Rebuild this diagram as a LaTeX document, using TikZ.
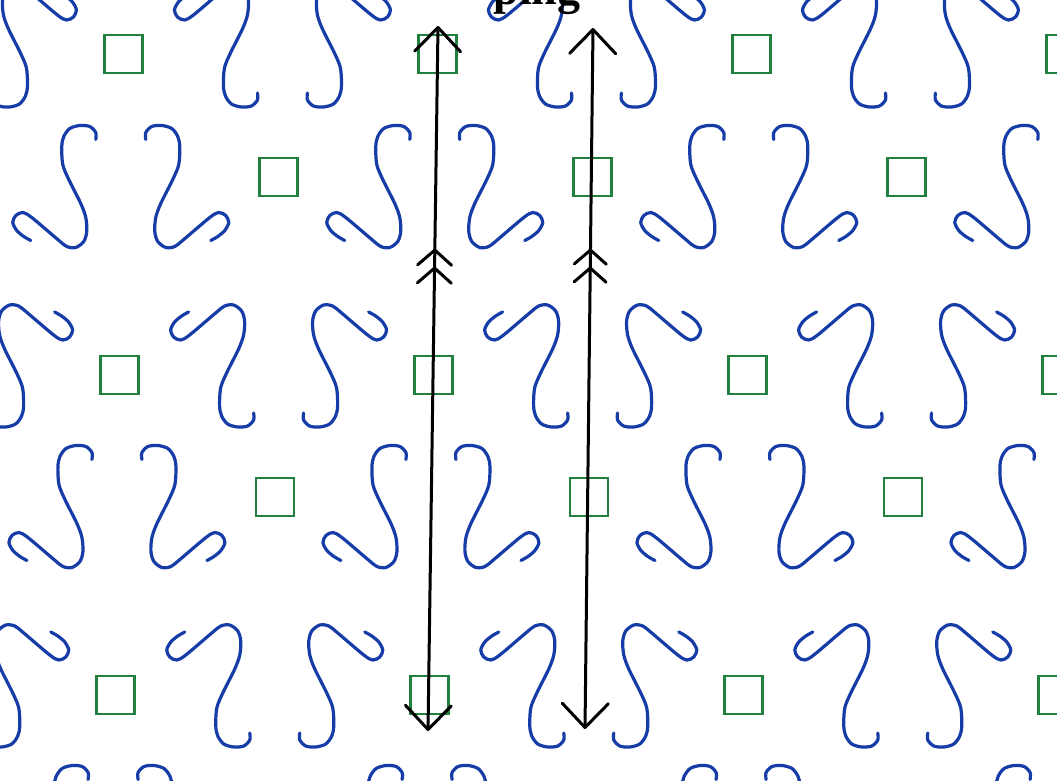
\documentclass[tikz,border=0pt]{standalone}
\usepackage{fontspec}
\setmainfont{Liberation Serif}
\usetikzlibrary{arrows.meta,decorations.markings}
\definecolor{motifblue}{RGB}{22,60,168}
\definecolor{sqgreen}{RGB}{34,128,62}
\tikzset{
  motif/.style={draw=motifblue, line width=3.2pt, line cap=round, line join=round},
  sq/.style={draw=sqgreen, line width=2.8pt, minimum size=38pt, inner sep=0pt, outer sep=0pt},
  spair/.pic={
    \draw[motif] plot[smooth,tension=0.5] coordinates{
     (-25,-47) (-25,-54) (-31,-60) (-41,-61) (-51,-58) (-57,-50) (-59,-40) (-58,-22) (-52,-7)
     (-40,17) (-35,31) (-34,45) (-37,55) (-45,61) (-54,60) (-63,53) (-89,31) (-98,26)
     (-105,29) (-108,36) (-104,44) (-97,50) (-90,54)};
    \draw[motif, xscale=-1] plot[smooth,tension=0.5] coordinates{
     (-25,-47) (-25,-54) (-31,-60) (-41,-61) (-51,-58) (-57,-50) (-59,-40) (-58,-22) (-52,-7)
     (-40,17) (-35,31) (-34,45) (-37,55) (-45,61) (-54,60) (-63,53) (-89,31) (-98,26)
     (-105,29) (-108,36) (-104,44) (-97,50) (-90,54)};
  },
  chev/.style={draw=black, line width=3pt, line cap=round, line join=round, arrows=-},
  axisline/.style={draw=black, line width=3pt,
     {Straight Barb[length=24pt,width=46pt,round]}-{Straight Barb[length=24pt,width=46pt,round]}},
}
\begin{document}
\begin{tikzpicture}[x=1pt,y=-1pt]
\useasboundingbox (0,0) rectangle (1057,780);
\begin{scope}
\clip (0,0) rectangle (1057,780);
\fill[white] (0,0) rectangle (1057,780);
\begin{scope}[xslant=0.012]
  % type 1 rows (S pairs)
  \foreach \yy in {186.5,506.5,826.5}{
    \foreach \xx in {123,437,751,1065}{
      \pic at (\xx,\yy) {spair};
    }
  }
  % type 2 rows (vertically mirrored pairs)
  \foreach \yy in {46,366,686}{
    \foreach \xx in {-31,283,597,911}{
      \pic[yscale=-1] at (\xx,\yy) {spair};
    }
  }
  % squares in type 1 rows
  \node[sq] (sqB1) at (281,177) {};
  \node[sq] (sqB2) at (595,177) {};
  \node[sq] (sqB3) at (909,177) {};
  \node[sq] (sqD1) at (281,497) {};
  \node[sq] (sqD2) at (595,497) {};
  \node[sq] (sqD3) at (909,497) {};
  % squares in type 2 rows
  \node[sq] (sqA1) at (124,54) {};
  \node[sq] (sqA2) at (438,54) {};
  \node[sq] (sqA3) at (752,54) {};
  \node[sq] (sqA4) at (1066,54) {};
  \node[sq] (sqC1) at (124,375) {};
  \node[sq] (sqC2) at (438,375) {};
  \node[sq] (sqC3) at (752,375) {};
  \node[sq] (sqC4) at (1066,375) {};
  \node[sq] (sqE1) at (124,695) {};
  \node[sq] (sqE2) at (438,695) {};
  \node[sq] (sqE3) at (752,695) {};
  \node[sq] (sqE4) at (1066,695) {};
\end{scope}
% axes with arrows
\coordinate (a1b) at (428,731);
\coordinate (a1t) at (438,26);
\coordinate (a2b) at (585,729);
\coordinate (a2t) at (593,28);
\draw[axisline, postaction={decorate}, decoration={markings,
   mark=at position 463pt with {\draw[chev] (-15,-17) -- (0,0) -- (-15,17);},
   mark=at position 481pt with {\draw[chev] (-15,-17) -- (0,0) -- (-15,17);}}] (a1b) -- (a1t);
\draw[axisline, postaction={decorate}, decoration={markings,
   mark=at position 461pt with {\draw[chev] (-14,-16) -- (0,0) -- (-14,16);},
   mark=at position 479pt with {\draw[chev] (-14,-16) -- (0,0) -- (-14,16);}}] (a2b) -- (a2t);
\node[font=\fontsize{46}{50}\selectfont\bfseries, anchor=base, inner sep=0pt] (title) at (537,4) {ping};
\end{scope}
\end{tikzpicture}
\end{document}
